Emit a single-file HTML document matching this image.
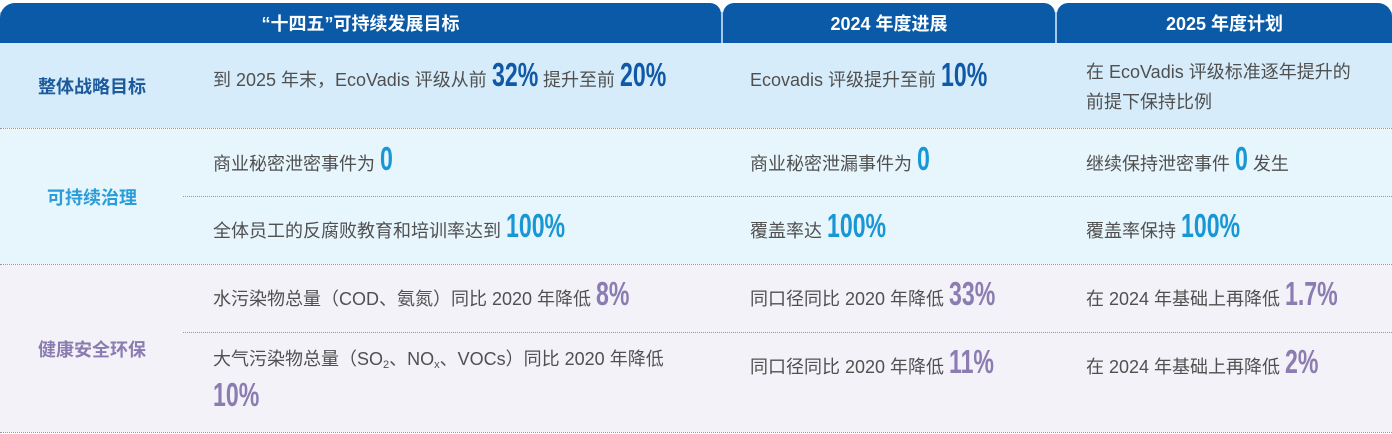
<!DOCTYPE html>
<html>
<head>
<meta charset="utf-8">
<style>
  html,body{margin:0;padding:0;background:#fff;}
  #c{position:relative;width:1392px;height:434px;overflow:hidden;background:#fff;
     font-family:"Liberation Sans","Noto Sans CJK SC",sans-serif;}
  .abs{position:absolute;}
  .tab{position:absolute;top:3px;height:40px;background:#0b5aa7;color:#fff;
       font-weight:bold;font-size:18px;line-height:36px;text-align:center;}
  .tab span{position:absolute;left:0;right:0;top:3px;}
  .row{position:absolute;left:0;width:1392px;}
  .dot{position:absolute;height:0;border-top:1px dotted #7f9dbd;}
  .ln{position:absolute;height:36px;line-height:36px;font-size:18px;color:#505050;white-space:nowrap;}
  .lab{position:absolute;left:0;width:184px;text-align:center;height:36px;line-height:36px;
       font-size:18px;font-weight:bold;white-space:nowrap;}
  .n{display:inline-block;font-family:"Liberation Sans",sans-serif;font-weight:bold;font-size:33px;
     line-height:20px;transform:scaleX(.7);transform-origin:0 50%;}
  .b{color:#0f59a6;}
  .c{color:#1897d4;}
  .p{color:#8b7cb2;}
  .w3{margin-right:-19.8px;}
  .w1{margin-right:-5.5px;}
  .w4{margin-right:-25.3px;}
  .w2{margin-right:-14.3px;}
  .w17{margin-right:-22.6px;}
  sub{font-size:11px;vertical-align:-3px;line-height:0;}
</style>
</head>
<body>
<div id="c">
  <!-- header -->
  <div class="abs" style="left:0;top:12px;width:1392px;height:31px;background:#a6c8ea;"></div>
  <div class="tab" style="left:0;width:721px;border-radius:15px 11px 0 0;"><span>“十四五”可持续发展目标</span></div>
  <div class="tab" style="left:723px;width:332px;border-radius:11px 11px 0 0;"><span>2024 年度进展</span></div>
  <div class="tab" style="left:1057px;width:335px;border-radius:11px 14px 0 0;"><span>2025 年度计划</span></div>

  <!-- rows -->
  <div class="row" style="top:43px;height:85px;background:#d6ecfa;"></div>
  <div class="dot" style="left:0;width:1392px;top:128px;"></div>
  <div class="row" style="top:129px;height:135px;background:#e7f5fd;"></div>
  <div class="dot" style="left:0;width:1392px;top:264px;"></div>
  <div class="row" style="top:265px;height:167px;background:#f3f2f8;"></div>
  <div class="dot" style="left:0;width:1392px;top:432px;"></div>
  <div class="dot" style="left:183px;width:1209px;top:196px;"></div>
  <div class="dot" style="left:183px;width:1209px;top:332px;"></div>

  <!-- labels -->
  <div class="lab" style="top:69px;color:#1c5a9b;">整体战略目标</div>
  <div class="lab" style="top:180px;color:#2a9dd8;">可持续治理</div>
  <div class="lab" style="top:332px;color:#8a7cb0;">健康安全环保</div>

  <!-- row 1 -->
  <div class="ln" style="left:213px;top:62px;">到 2025 年末，EcoVadis 评级从前 <span class="n b w3">32%</span> 提升至前 <span class="n b w3">20%</span></div>
  <div class="ln" style="left:750px;top:62px;">Ecovadis 评级提升至前 <span class="n b w3">10%</span></div>
  <div class="ln" style="left:1086px;top:54px;">在 EcoVadis 评级标准逐年提升的</div>
  <div class="ln" style="left:1086px;top:84px;">前提下保持比例</div>

  <!-- row 2 -->
  <div class="ln" style="left:213px;top:146px;">商业秘密泄密事件为 <span class="n c w1">0</span></div>
  <div class="ln" style="left:750px;top:146px;">商业秘密泄漏事件为 <span class="n c w1">0</span></div>
  <div class="ln" style="left:1086px;top:146px;">继续保持泄密事件 <span class="n c w1">0</span> 发生</div>
  <div class="ln" style="left:213px;top:213px;">全体员工的反腐败教育和培训率达到 <span class="n c w4">100%</span></div>
  <div class="ln" style="left:750px;top:213px;">覆盖率达 <span class="n c w4">100%</span></div>
  <div class="ln" style="left:1086px;top:213px;">覆盖率保持 <span class="n c w4">100%</span></div>

  <!-- row 3 -->
  <div class="ln" style="left:213px;top:281px;">水污染物总量（COD、氨氮）同比 2020 年降低 <span class="n p w2">8%</span></div>
  <div class="ln" style="left:750px;top:281px;">同口径同比 2020 年降低 <span class="n p w3">33%</span></div>
  <div class="ln" style="left:1086px;top:281px;">在 2024 年基础上再降低 <span class="n p w17">1.7%</span></div>
  <div class="ln" style="left:213px;top:341px;">大气污染物总量（SO<sub>2</sub>、NO<sub>x</sub>、VOCs）同比 2020 年降低</div>
  <div class="ln" style="left:213px;top:382px;"><span class="n p w3">10%</span></div>
  <div class="ln" style="left:750px;top:349px;">同口径同比 2020 年降低 <span class="n p w3">11%</span></div>
  <div class="ln" style="left:1086px;top:349px;">在 2024 年基础上再降低 <span class="n p w2">2%</span></div>
</div>
</body>
</html>
